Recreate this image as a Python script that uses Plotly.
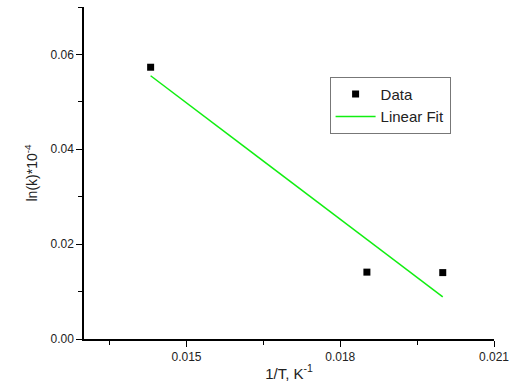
import numpy as np
import plotly.graph_objects as go

inv_T = [0.0143, 0.01852, 0.0200]
ln_k = [0.0573, 0.0141, 0.0140]

slope, intercept = np.polyfit(inv_T, ln_k, 1)
fit_x = [min(inv_T), max(inv_T)]
fit_y = [slope * v + intercept for v in fit_x]

fig = go.Figure()
fig.add_trace(go.Scatter(x=inv_T, y=ln_k, mode="markers", name="Data",
                         marker=dict(symbol="square", size=7, color="black")))
fig.add_trace(go.Scatter(x=fit_x, y=fit_y, mode="lines", name="Linear Fit",
                         line=dict(color="#11ee11", width=1.5)))

axis_common = dict(showline=True, linecolor="black", linewidth=1.5, ticks="outside",
                   ticklen=6, tickwidth=1.2, tickcolor="black", showgrid=False,
                   zeroline=False, mirror=False,
                   tickfont=dict(family="Liberation Sans, Arial", size=12, color="#222"))

fig.update_layout(
    width=516, height=387,
    margin=dict(l=84, r=18, t=7, b=47),
    plot_bgcolor="white", paper_bgcolor="white",
    font=dict(family="Liberation Sans, Arial", size=13, color="#222"),
    xaxis=dict(range=[0.013, 0.021], tick0=0.015, dtick=0.003, tickformat=".3f",
               minor=dict(tick0=0.0135, dtick=0.003, ticks="outside", ticklen=4,
                          tickcolor="black", tickwidth=1.2),
               title=dict(text="1/T, K<sup>-1</sup>", standoff=5, font=dict(size=15)),
               **axis_common),
    yaxis=dict(range=[0, 0.07], tick0=0, dtick=0.02, tickformat=".2f",
               minor=dict(tick0=0.01, dtick=0.02, ticks="outside", ticklen=4,
                          tickcolor="black", tickwidth=1.2),
               title=dict(text="ln(k)*10<sup>-4</sup>", standoff=10, font=dict(size=14)),
               **axis_common),
    legend=dict(x=0.599, y=0.79, xanchor="left", yanchor="top",
                bordercolor="#777", borderwidth=1, bgcolor="white",
                font=dict(size=15, color="#222"), tracegroupgap=0,
                itemwidth=40),
    showlegend=True,
)

fig.write_html("out.html", post_script="document.body.style.margin='0';",
               config={"displayModeBar": False})
